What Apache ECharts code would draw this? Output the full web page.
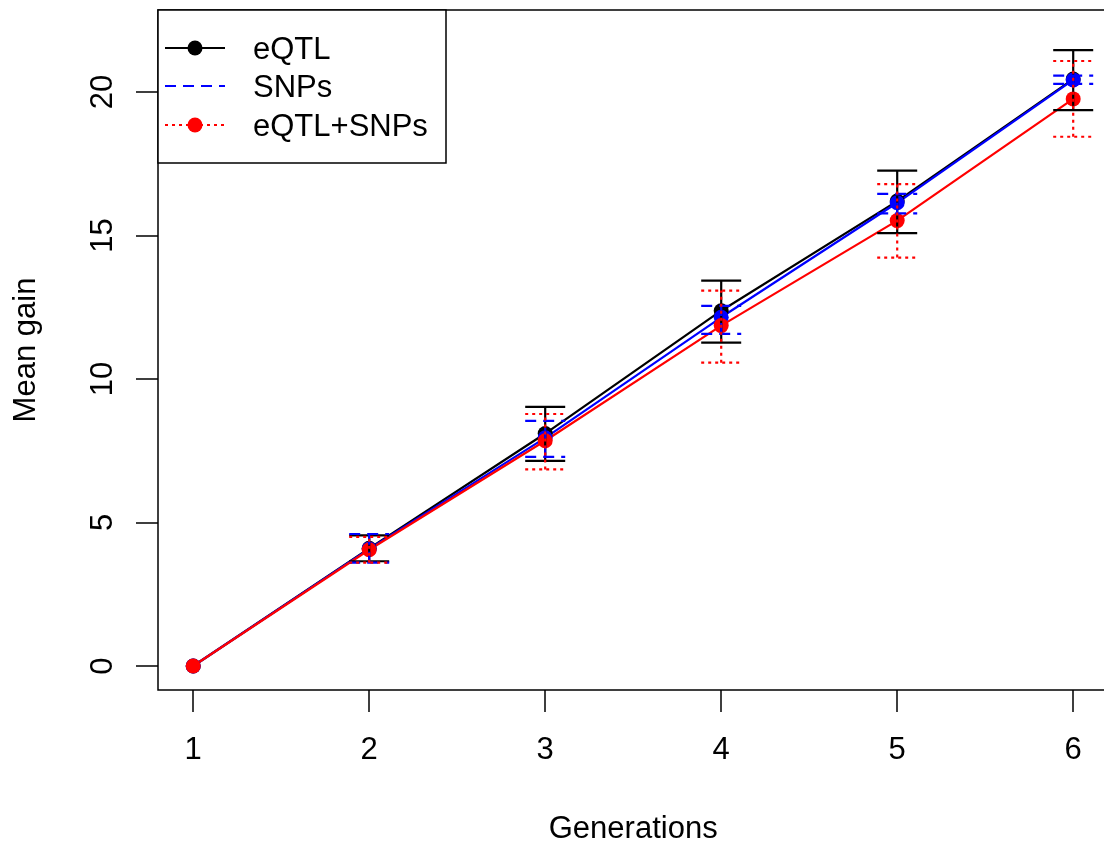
<!DOCTYPE html>
<html>
<head>
<meta charset="utf-8">
<script src="https://cdn.jsdelivr.net/npm/echarts@6/dist/echarts.min.js"></script>
<style>
  html, body { margin: 0; padding: 0; background: #fff; }
  #chart { width: 1104px; height: 843px; }
</style>
</head>
<body>
<div id="chart"></div>
<script>
// generations on the x axis
var generations = [1, 2, 3, 4, 5, 6];

// mean gain per method
var eqtlMean = [0, 4.1, 8.1, 12.38, 16.2, 20.45];
var snpsMean = [0, 4.08, 7.95, 12.15, 16.14, 20.42];
var bothMean = [0, 4.05, 7.85, 11.86, 15.52, 19.76];

// error bar ends
var eqtlLow = [0, 3.65, 7.15, 11.27, 15.08, 19.37];
var eqtlHigh = [0, 4.55, 9.03, 13.43, 17.26, 21.46];
var snpsLow = [0, 3.6, 7.29, 11.57, 15.77, 20.28];
var snpsHigh = [0, 4.6, 8.54, 12.55, 16.45, 20.57];
var bothLow = [0, 3.6, 6.85, 10.57, 14.23, 18.44];
var bothHigh = [0, 4.5, 8.78, 13.08, 16.79, 21.08];

var xTicks = [1, 2, 3, 4, 5, 6];
var yTicks = [0, 5, 10, 15, 20];

var FONT = '"Liberation Sans", Arial, Helvetica, sans-serif';
var FS = 31;

function pairs(ys) {
    return generations.map(function (g, i) { return [g, ys[i]]; });
}
function bars(lo, hi) {
    return generations.map(function (g, i) { return [g, lo[i], hi[i]]; });
}

function lineSeries(name, color, ys) {
    return {
        name: name,
        type: 'line',
        data: pairs(ys),
        symbol: 'circle',
        symbolSize: 15,
        showSymbol: true,
        itemStyle: { color: color },
        lineStyle: { color: color, width: 2.2 },
        z: 3,
        animation: false
    };
}

function errorSeries(color, dash, lo, hi) {
    return {
        type: 'custom',
        data: bars(lo, hi),
        z: 4,
        silent: true,
        animation: false,
        renderItem: function (params, api) {
            var x = api.value(0), lo = api.value(1), hi = api.value(2);
            if (lo === hi) return;
            var p1 = api.coord([x, lo]);
            var p2 = api.coord([x, hi]);
            var w = 20;
            var style = { stroke: color, lineWidth: 2.2, lineDash: dash, fill: null };
            return {
                type: 'group',
                children: [
                    { type: 'line', shape: { x1: p1[0], y1: p1[1], x2: p2[0], y2: p2[1] }, style: style },
                    { type: 'line', shape: { x1: p1[0] - w, y1: p1[1], x2: p1[0] + w, y2: p1[1] }, style: style },
                    { type: 'line', shape: { x1: p2[0] - w, y1: p2[1], x2: p2[0] + w, y2: p2[1] }, style: style }
                ]
            };
        }
    };
}

var chart = echarts.init(document.getElementById('chart'));

var legendRows = [
    { label: 'eQTL', color: '#000000', dash: null, dot: true, y: 48 },
    { label: 'SNPs', color: '#0000ff', dash: [11, 7], dot: false, y: 86 },
    { label: 'eQTL+SNPs', color: '#ff0000', dash: [3, 4], dot: true, y: 125 }
];
var legendGraphics = [{
    type: 'rect',
    shape: { x: 158, y: 10, width: 288, height: 153 },
    style: { fill: '#fff', stroke: '#000', lineWidth: 1.5 },
    z: 10
}];
legendRows.forEach(function (r) {
    legendGraphics.push({
        type: 'line',
        shape: { x1: 165, y1: r.y, x2: 225, y2: r.y },
        style: { stroke: r.color, lineWidth: 2.2, lineDash: r.dash },
        z: 11
    });
    if (r.dot) {
        legendGraphics.push({
            type: 'circle',
            shape: { cx: 195, cy: r.y, r: 7.5 },
            style: { fill: r.color },
            z: 11
        });
    }
    legendGraphics.push({
        type: 'text',
        x: 253,
        y: r.y + 2,
        style: { text: r.label, font: FS + 'px ' + FONT, fill: '#000', textVerticalAlign: 'middle' },
        z: 11
    });
});

chart.setOption({
    backgroundColor: '#fff',
    animation: false,
    grid: {
        left: 158, right: -4.4, top: 10, bottom: 153,
        outerBoundsMode: 'none',
        containLabel: false,
        show: true, borderColor: '#000', borderWidth: 1.5, backgroundColor: 'transparent'
    },
    xAxis: {
        type: 'value',
        min: 0.8, max: 6.2,
        name: 'Generations',
        nameLocation: 'middle',
        nameGap: 124,
        nameTextStyle: { fontFamily: FONT, fontSize: FS, color: '#000' },
        axisLine: { show: false, onZero: false },
        splitLine: { show: false },
        axisTick: { show: true, length: 22, customValues: xTicks, lineStyle: { color: '#000', width: 1.5 } },
        axisLabel: { customValues: xTicks, margin: 45, fontFamily: FONT, fontSize: FS, color: '#000' }
    },
    yAxis: {
        type: 'value',
        min: -0.836, max: 22.857,
        name: 'Mean gain',
        nameLocation: 'middle',
        nameGap: 116,
        nameTextStyle: { fontFamily: FONT, fontSize: FS, color: '#000' },
        axisLine: { show: false, onZero: false },
        splitLine: { show: false },
        axisTick: { show: true, length: 22, customValues: yTicks, lineStyle: { color: '#000', width: 1.5 } },
        axisLabel: { customValues: yTicks, rotate: 90, margin: 39, fontFamily: FONT, fontSize: FS, color: '#000' }
    },
    graphic: legendGraphics,
    series: [
        lineSeries('eQTL', '#000000', eqtlMean),
        lineSeries('SNPs', '#0000ff', snpsMean),
        lineSeries('eQTL+SNPs', '#ff0000', bothMean),
        errorSeries('#000000', null, eqtlLow, eqtlHigh),
        errorSeries('#0000ff', [11, 7], snpsLow, snpsHigh),
        errorSeries('#ff0000', [3, 4], bothLow, bothHigh)
    ]
});
</script>
</body>
</html>
